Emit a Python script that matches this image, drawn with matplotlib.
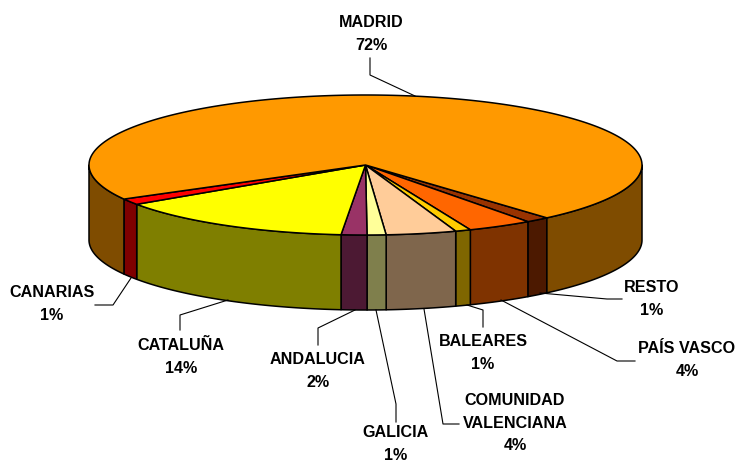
#!/usr/bin/env python3
"""3D-look pie: ellipse top plus extruded rim, drawn in pixel coordinates."""
import numpy as np
import matplotlib
matplotlib.use("Agg")
import matplotlib.pyplot as plt
from matplotlib.patches import Polygon

# clockwise on screen, starting at RESTO
names = ["RESTO", "PAÍS VASCO", "BALEARES", "COMUNIDAD\nVALENCIANA", "GALICIA",
         "ANDALUCIA", "CATALUÑA", "CANARIAS", "MADRID"]
values = [1.4, 3.8, 0.9, 4.1, 1.1, 1.5, 14.1, 1.4, 71.7]
pct_labels = ["1%", "4%", "1%", "4%", "1%", "2%", "14%", "1%", "72%"]
top_colors = ["#993300", "#FF6600", "#FFCC00", "#FFCC99", "#FFFF99",
              "#993366", "#FFFF00", "#FF0000", "#FF9900"]
side_colors = ["#4C1900", "#7F3300", "#7F6600", "#7F664C", "#7F7F4C",
               "#4C1933", "#7F7F00", "#7F0000", "#7F4C00"]

# label centre and leader line per slice, same order
label_pos = [(652, 299), (687, 360), (483, 353), (515, 423), (396, 444),
             (318, 371), (181, 357), (52, 304), (371, 34)]
leaders = [
    [(622, 299), (607, 299), (540, 293)],
    [(635, 361), (617, 361), (501, 300)],
    [(483, 327), (483, 310), (467, 305)],
    [(459, 424), (443, 424), (424, 309)],
    [(396, 422), (396, 404), (376, 310)],
    [(318, 345), (318, 328), (355, 310)],
    [(180, 330), (180, 315), (228, 300)],
    [(95, 305), (113, 305), (131, 278)],
    [(370, 58), (370, 75), (415, 96)],
]

CX, CY, RX, RY, DEPTH = 365.5, 165, 276.5, 70, 75
START = 49.0

plt.rcParams["font.family"] = ["Liberation Sans", "DejaVu Sans"]

fig = plt.figure(figsize=(7.37, 4.63), dpi=100)
ax = fig.add_axes([0, 0, 1, 1])
ax.set_xlim(0, 737)
ax.set_ylim(463, 0)
ax.axis("off")


def rim(a0, a1):
    t = np.radians(np.linspace(a0, a1, max(int(abs(a1 - a0) * 2), 2)))
    return np.column_stack([CX + RX * np.cos(t), CY + RY * np.sin(t)])


spans = 3.6 * np.array(values)
starts = START + np.concatenate([[0], np.cumsum(spans)[:-1]])

# walls first, only the front half (0-180 deg) shows
for a0, span, col in zip(starts, spans, side_colors):
    for lo, hi in [(a0, a0 + span), (a0 - 360, a0 + span - 360)]:
        lo, hi = max(lo, 0), min(hi, 180)
        if hi <= lo:
            continue
        edge = rim(lo, hi)
        low = edge[::-1] + [0, DEPTH]
        ax.add_patch(Polygon(np.vstack([edge, low]), closed=True, fc=col,
                             ec="black", lw=1.1, joinstyle="round", zorder=2))

for a0, span, col in zip(starts, spans, top_colors):
    pts = np.vstack([[CX, CY], rim(a0, a0 + span)])
    ax.add_patch(Polygon(pts, closed=True, fc=col, ec="black", lw=1.1,
                         joinstyle="round", zorder=3))

for name, pct, (x, y), line, in zip(names, pct_labels, label_pos, leaders):
    xs, ys = zip(*line)
    ax.plot(xs, ys, color="black", lw=0.8, zorder=4)
    ax.text(x, y, f"{name}\n{pct}", ha="center", va="center", fontsize=11.6,
            fontweight="bold", linespacing=1.6, color="black", zorder=5)

fig.savefig("out.png", dpi=100)
